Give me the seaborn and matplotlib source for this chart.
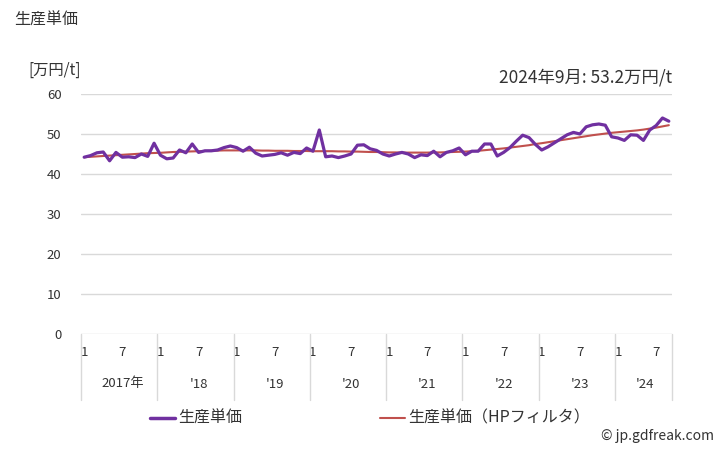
import matplotlib
matplotlib.use("Agg")
import matplotlib.pyplot as plt
from matplotlib.lines import Line2D
import seaborn as sns
import pandas as pd
import numpy as np

# ---- data (monthly, Jan 2017 - Sep 2024) ----
years = [2017, 2018, 2019, 2020, 2021, 2022, 2023, 2024]
year_labels = ["2017年", "'18", "'19", "'20", "'21", "'22", "'23", "'24"]
months_per_year = [12, 12, 12, 12, 12, 12, 12, 9]

price = [
    44.2, 44.6, 45.3, 45.5, 43.3, 45.4, 44.2, 44.3, 44.1, 45.0, 44.4, 47.7,   # 2017
    44.7, 43.8, 44.0, 46.0, 45.3, 47.5, 45.4, 45.8, 45.8, 46.0, 46.6, 47.0,   # 2018
    46.6, 45.7, 46.7, 45.2, 44.5, 44.7, 44.9, 45.3, 44.7, 45.4, 45.1, 46.5,   # 2019
    45.7, 51.0, 44.3, 44.5, 44.1, 44.5, 45.0, 47.2, 47.3, 46.3, 45.9, 45.0,   # 2020
    44.5, 45.0, 45.4, 45.0, 44.1, 44.8, 44.6, 45.7, 44.3, 45.4, 45.8, 46.5,   # 2021
    44.8, 45.7, 45.7, 47.5, 47.5, 44.5, 45.4, 46.6, 48.2, 49.7, 49.1, 47.4,   # 2022
    46.0, 46.8, 47.8, 48.8, 49.8, 50.4, 50.0, 51.8, 52.3, 52.5, 52.2, 49.3,   # 2023
    49.0, 48.4, 49.8, 49.7, 48.4, 51.0, 52.1, 54.0, 53.2,                     # 2024
]

trend = [
    44.2, 44.3, 44.4, 44.5, 44.6, 44.7, 44.8, 44.9, 45.0, 45.1, 45.2, 45.25,
    45.3, 45.4, 45.5, 45.55, 45.6, 45.65, 45.7, 45.75, 45.8, 45.85, 45.9, 45.9,
    45.9, 45.9, 45.9, 45.9, 45.85, 45.85, 45.8, 45.8, 45.8, 45.75, 45.75, 45.75,
    45.7, 45.7, 45.7, 45.7, 45.65, 45.65, 45.6, 45.6, 45.55, 45.5, 45.5, 45.45,
    45.4, 45.4, 45.35, 45.35, 45.35, 45.35, 45.35, 45.4, 45.4, 45.45, 45.5, 45.55,
    45.6, 45.7, 45.8, 45.95, 46.1, 46.25, 46.4, 46.6, 46.8, 47.0, 47.2, 47.5,
    47.7, 47.95, 48.2, 48.45, 48.7, 48.95, 49.2, 49.45, 49.7, 49.9, 50.1, 50.3,
    50.45, 50.6, 50.75, 50.9, 51.1, 51.35, 51.6, 51.9, 52.2,
]

yticks = [0, 10, 20, 30, 40, 50, 60]
title = "生産単価"
unit = "[万円/t]"
note = "2024年9月: 53.2万円/t"
legend_labels = ["生産単価", "生産単価（HPフィルタ）"]
credit = "© jp.gdfreak.com"

# ---- build frame ----
month_no = []
for y, n in zip(years, months_per_year):
    month_no += list(range(1, n + 1))
idx = list(range(len(price)))
df = pd.DataFrame({"i": idx, "price": price, "trend": trend, "m": month_no})

sns.set_theme(style="white")
plt.rcParams["font.family"] = ["Noto Sans CJK JP", "DejaVu Sans"]

PURPLE = "#7030A0"
RED = "#C0504D"
TXT = "#333333"
GRID = "#D9D9D9"

fig = plt.figure(figsize=(7.28, 4.5), dpi=100)
W, H = 728, 450
L, R, T, B = 81, 672, 94, 334
ax = fig.add_axes([L / W, 1 - B / H, (R - L) / W, (B - T) / H])

sns.lineplot(data=df, x="i", y="trend", ax=ax, color=RED, linewidth=1.5, zorder=3)
sns.lineplot(data=df, x="i", y="price", ax=ax, color=PURPLE, linewidth=2.3, zorder=4)

n = len(price)
ax.set_xlim(-0.5, n - 0.5)
ax.set_ylim(0, 60)
ax.set_yticks(yticks)
ax.set_yticklabels([str(v) for v in yticks], color=TXT, fontsize=9.5)
for v in yticks:
    ax.axhline(v, color=GRID, linewidth=1, zorder=1)
for s in ax.spines.values():
    s.set_visible(False)
ax.tick_params(axis="y", length=0, pad=14)
ax.set_xlabel("")
ax.set_ylabel("")

# month ticks (1 and 7)
tick_pos = [i for i, m in zip(idx, month_no) if m in (1, 7)]
tick_lab = [str(month_no[i]) for i in tick_pos]
ax.set_xticks(tick_pos)
ax.set_xticklabels(tick_lab, color=TXT, fontsize=9.5)
ax.tick_params(axis="x", length=0, pad=9)

# year labels and separators
start = 0
sep_depth = -(400 - B) / (B - T)
trans = ax.get_xaxis_transform()
for lab, cnt in zip(year_labels, months_per_year):
    ax.plot([start - 0.5, start - 0.5], [0, sep_depth], color=GRID, linewidth=1,
            transform=trans, clip_on=False)
    ax.text(start + (cnt - 1) / 2 + (0.5 if cnt == 12 else 0.3), -(384 - B) / (B - T), lab,
            transform=trans, ha="center", va="center", fontsize=9.5, color=TXT)
    start += cnt
ax.plot([start - 0.5, start - 0.5], [0, sep_depth], color=GRID, linewidth=1,
        transform=trans, clip_on=False)

# texts
fig.text(14 / W, 1 - 20 / H, title, fontsize=11.5, va="center", ha="left", color=TXT)
fig.text(28 / W, 1 - 70 / H, unit, fontsize=11, va="center", ha="left", color=TXT)
fig.text(R / W, 1 - 78 / H, note, fontsize=12.5, va="center", ha="right", color=TXT)

# legend (manual)
fig.add_artist(Line2D([150 / W, 175 / W], [1 - 418 / H] * 2, color=PURPLE, linewidth=2.5))
fig.text(178 / W, 1 - 418 / H, legend_labels[0], fontsize=11.5, va="center", ha="left", color=TXT)
fig.add_artist(Line2D([380 / W, 405 / W], [1 - 418 / H] * 2, color=RED, linewidth=1.5))
fig.text(408 / W, 1 - 418 / H, legend_labels[1], fontsize=11.5, va="center", ha="left", color=TXT)
fig.text(714 / W, 1 - 436 / H, credit, fontsize=10, va="center", ha="right", color=TXT)

fig.savefig("out.png", dpi=100)
